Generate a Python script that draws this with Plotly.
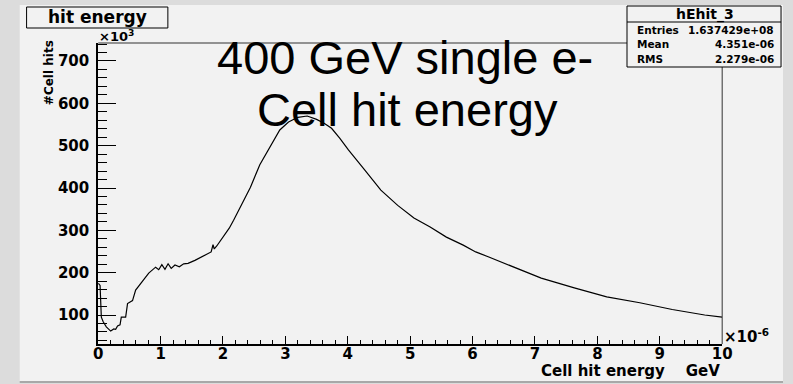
import plotly.graph_objects as go

# ---- data (x in units of 1e-6 GeV, y in units of 1e3 hits) ----
energy = [0.0, 0.03, 0.05, 0.08, 0.13, 0.2, 0.25, 0.28, 0.31, 0.35, 0.37, 0.44, 0.47, 0.55,
          0.6, 0.66, 0.71, 0.81, 0.92, 0.97, 1.02, 1.07, 1.12, 1.17, 1.23, 1.3, 1.37, 1.44,
          1.55, 1.65, 1.75, 1.81, 1.84, 1.86, 1.9, 1.97, 2.02, 2.1, 2.17, 2.28, 2.44, 2.59,
          2.75, 2.91, 3.05, 3.2, 3.35, 3.5, 3.62, 3.74, 3.87, 4.01, 4.27, 4.53, 4.8, 5.06,
          5.32, 5.58, 5.85, 6.05, 6.26, 6.57, 7.1, 7.63, 8.15, 8.68, 9.2, 9.72, 10.0]
hits = [175, 170, 95, 84, 72, 62, 67, 66, 74, 77, 95, 95, 127, 134,
        159, 171, 181, 199, 213, 207, 219, 208, 221, 210, 218, 214, 221, 222,
        229, 236, 244, 249, 266, 256, 263, 277, 288, 305, 324, 355, 402, 455,
        497, 537, 556, 567, 570, 562, 553, 541, 518, 490, 443, 395, 359, 329,
        308, 284, 265, 249, 237, 219, 187, 164, 143, 129, 113, 100, 95]

x_ticks = [0, 1, 2, 3, 4, 5, 6, 7, 8, 9, 10]
y_ticks = [100, 200, 300, 400, 500, 600, 700]

stats_name = "hEhit_3"
stats_rows = [("Entries", "1.637429e+08"), ("Mean", "4.351e-06"), ("RMS", "2.279e-06")]

W, H = 793, 384
X0, X1, Y0, Y1 = 95, 731, 43, 344
BOLD = "DejaVu Sans, Liberation Sans, Arial, sans-serif"
THIN = "Liberation Sans, Arial, sans-serif"


def px(x):
    return x / W


def py(y):
    return 1 - y / H


fig = go.Figure(go.Scatter(x=energy, y=hits, mode="lines",
                           line=dict(color="black", width=1.2), hoverinfo="skip"))

tickfont = dict(family=BOLD, size=15, color="black", weight="bold")

fig.update_layout(
    width=W, height=H, margin=dict(l=0, r=0, t=0, b=0),
    paper_bgcolor="#dcdcdc", plot_bgcolor="rgba(0,0,0,0)", showlegend=False,
    xaxis=dict(domain=[px(X0), px(X1)], range=[0, 10], showgrid=False, zeroline=False,
               showline=True, linecolor="black", linewidth=2,
               ticks="inside", ticklen=8, tickwidth=1, tickcolor="black",
               tickvals=x_ticks, ticktext=[str(v) for v in x_ticks], tickfont=tickfont,
               ticklabelstandoff=-5,
               minor=dict(ticks="inside", ticklen=4, dtick=0.2, tick0=0,
                          tickcolor="black", showgrid=False)),
    yaxis=dict(domain=[py(Y1), py(Y0)], range=[31.5, 742.5], showgrid=False, zeroline=False,
               showline=True, linecolor="black", linewidth=2,
               ticks="inside", ticklen=18, tickwidth=1, tickcolor="black",
               tickvals=y_ticks, ticktext=[str(v) for v in y_ticks], tickfont=tickfont,
               ticklabelstandoff=4,
               minor=dict(ticks="inside", ticklen=9, dtick=20, tick0=0,
                          tickcolor="black", showgrid=False)),
)

shapes = []
# canvas
shapes.append(dict(type="rect", xref="paper", yref="paper", layer="below",
                   x0=px(15), x1=px(793), y0=py(381), y1=py(5),
                   fillcolor="#f2f2f2", line=dict(width=0)))
shapes.append(dict(type="line", xref="paper", yref="paper",
                   x0=px(15), x1=px(793), y0=py(382), y1=py(382),
                   line=dict(color="#a8a8a8", width=2)))
# frame top and right
shapes.append(dict(type="line", xref="paper", yref="paper",
                   x0=px(X0), x1=px(X1), y0=py(Y0), y1=py(Y0),
                   line=dict(color="#333333", width=1)))
shapes.append(dict(type="line", xref="paper", yref="paper",
                   x0=px(X1), x1=px(X1), y0=py(Y0), y1=py(Y1),
                   line=dict(color="#333333", width=1)))
# title box
shapes.append(dict(type="rect", xref="paper", yref="paper",
                   x0=px(22), x1=px(166), y0=py(28), y1=py(7),
                   fillcolor="#f2f2f2", line=dict(color="black", width=1)))
# stats box
shapes.append(dict(type="rect", xref="paper", yref="paper",
                   x0=px(634), x1=px(791), y0=py(67), y1=py(6),
                   fillcolor="#f2f2f2", line=dict(color="black", width=1)))
shapes.append(dict(type="line", xref="paper", yref="paper",
                   x0=px(634), x1=px(791), y0=py(22), y1=py(22),
                   line=dict(color="black", width=1)))

ann = []


def add(text, x, y, size, xanchor="center", bold=True, angle=0, yanchor="middle"):
    ann.append(dict(text=text, xref="paper", yref="paper", x=px(x), y=py(y),
                    xanchor=xanchor, yanchor=yanchor, showarrow=False, textangle=angle,
                    font=dict(family=BOLD if bold else THIN, size=size, color="black",
                              weight="bold" if bold else "normal")))


add("hit energy", 94, 17.5, 17)
add(stats_name, 713, 14, 14)
for i, (k, v) in enumerate(stats_rows):
    yy = 30 + i * 14.5
    add(k, 642, yy, 10.5, xanchor="left")
    add(v, 786, yy, 10.5, xanchor="right")
add("×10<sup>3</sup>", 94, 36, 13, xanchor="left")
add("×10<sup>-6</sup>", 731, 336, 15, xanchor="left")
add("#Cell hits", 45, 73, 12, angle=-90)
add("Cell hit energy\u00a0\u00a0\u00a0\u00a0GeV", 731, 371, 15, xanchor="right")
add("400 GeV single e-", 408, 58, 47, bold=False)
add("Cell hit energy", 410, 110, 47, bold=False)

fig.update_layout(shapes=shapes, annotations=ann)
fig.write_html("out.html")
